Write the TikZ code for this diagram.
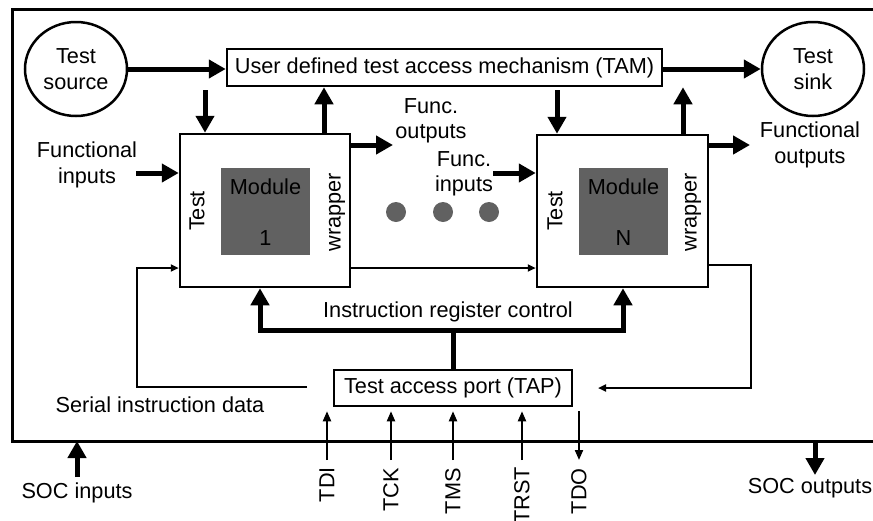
\documentclass[tikz,border=0pt]{standalone}
\usepackage{fontspec}
\setmainfont{Liberation Sans}
\usetikzlibrary{arrows.meta,shapes.geometric}
\begin{document}
\begin{tikzpicture}[x=1pt,y=-1pt,
  every node/.style={font=\fontsize{21.7}{25.5}\selectfont, inner sep=0pt},
  box/.style={draw, line width=2.5pt, rectangle},
  oval/.style={draw, line width=2.5pt, ellipse, minimum width=102pt, minimum height=94pt, align=center},
  modbox/.style={fill=black!62, minimum width=89pt, minimum height=87pt},
  thickarrow/.style={line width=5pt, -{Triangle[length=17pt,width=18pt]}},
  thinarrow/.style={line width=2pt, -{Triangle[length=8pt,width=7pt]}},
  pinarrow/.style={line width=2pt, -{Triangle[length=10pt,width=8pt]}},
  lbl/.style={align=center},
  vlbl/.style={rotate=90},
  dotnode/.style={circle, fill=black!62, minimum size=20pt},
]
\useasboundingbox (0,0) rectangle (873,520);

% outer SOC boundary
\coordinate (oTR) at (873,9);
\coordinate (oTL) at (12,9);
\coordinate (oBL) at (12,441);
\coordinate (oBR) at (873,441);
\draw[line width=3pt] (oTR) -- (oTL) -- (oBL) -- (oBR);

% main nodes
\node[oval] (src) at (76,69) {Test\\source};
\node[oval] (sink) at (813,69) {Test\\sink};
\node[box, minimum width=435pt, minimum height=37pt] (tam) at (444.5,67.5) {User defined test access mechanism (TAM)};
\node[box, minimum width=170pt, minimum height=153pt] (w1) at (265,210.5) {};
\node[box, minimum width=171pt, minimum height=152pt] (w2) at (622.5,211) {};
\node[modbox] (m1) at (265.5,211.5) {};
\node[modbox] (m2) at (623.5,211.5) {};
\node (m1t) at (265.5,187) {Module};
\node (m1n) at (265.5,238) {1};
\node (m2t) at (623.5,187) {Module};
\node (m2n) at (623.5,238) {N};
\node[vlbl] (t1) at (197,211) {Test};
\node[vlbl] (wr1) at (337,212) {wrapper};
\node[vlbl] (t2) at (555,211) {Test};
\node[vlbl] (wr2) at (693,212) {wrapper};
\node[box, minimum width=238pt, minimum height=36pt] (tap) at (453,388) {Test access port (TAP)};

% dots
\node[dotnode] (d1) at (396,212) {};
\node[dotnode] (d2) at (443,212) {};
\node[dotnode] (d3) at (489,212) {};

% labels
\node[lbl] (lfi) at (87,165) {Functional\\inputs};
\node[lbl] (lfo1) at (431,121) {Func.\\outputs};
\node[lbl] (lfi2) at (464,174) {Func.\\inputs};
\node[lbl] (lfo2) at (810,145) {Functional\\outputs};
\node (lirc) at (448,312) {Instruction register control};
\node (lsid) at (160,405) {Serial instruction data};
\node (lsocin) at (77,493) {SOC inputs};
\node (lsocout) at (810,488) {SOC outputs};

% TAM connections
\draw[thickarrow] (src.east) -- (tam.west |- src.east);
\draw[thickarrow] (tam.east |- sink.west) -- (sink.west);
\coordinate (c1) at (205,0);
\coordinate (c2) at (324,0);
\coordinate (c3) at (557,0);
\coordinate (c4) at (683,0);
\draw[thickarrow, shorten <=3pt] (c1 |- tam.south) -- (c1 |- w1.north);
\draw[thickarrow] (c2 |- w1.north) -- (c2 |- tam.south);
\draw[thickarrow, shorten <=3pt] (c3 |- tam.south) -- (c3 |- w2.north);
\draw[thickarrow] (c4 |- w2.north) -- (c4 |- tam.south);

% functional I/O
\coordinate (fi) at (136,173);
\coordinate (fo1) at (393,145);
\coordinate (fi2) at (493,173);
\coordinate (fo2) at (750,145);
\draw[thickarrow] (fi) -- (fi -| w1.west);
\draw[thickarrow] (fo1 -| w1.east) -- (fo1);
\draw[thickarrow] (fi2) -- (fi2 -| w2.west);
\draw[thickarrow] (fo2 -| w2.east) -- (fo2);

% serial path
\coordinate (mid) at (0,268);
\draw[thinarrow] (mid -| w1.east) -- (mid -| w2.west);
\coordinate (sA) at (307,387);
\coordinate (sB) at (137,268);
\draw[thinarrow] (sA) -| (sB) -- (sB -| w1.west);
\coordinate (rA) at (751,265);
\coordinate (rB) at (598,388);
\draw[thinarrow] (rA -| w2.east) -- (rA) |- (rB);

% instruction register control
\coordinate (irL) at (260,330);
\coordinate (irR) at (623,330);
\draw[line width=5pt, {Triangle[length=17pt,width=18pt]}-{Triangle[length=17pt,width=18pt]}]
  (irL |- w1.south) -- (irL) -- (irR) -- (irR |- w2.south);
\draw[line width=5pt] (tap.north) -- (tap.north |- irL);

% TAP pins
\coordinate (pTDI) at (327,460);
\coordinate (pTCK) at (391,460);
\coordinate (pTMS) at (453,460);
\coordinate (pTRST) at (522,460);
\coordinate (pTDO) at (579,460);
\draw[pinarrow, shorten >=4pt] (pTDI) -- (pTDI |- tap.south);
\draw[pinarrow, shorten >=4pt] (pTCK) -- (pTCK |- tap.south);
\draw[pinarrow, shorten >=4pt] (pTMS) -- (pTMS |- tap.south);
\draw[pinarrow, shorten >=4pt] (pTRST) -- (pTRST |- tap.south);
\draw[pinarrow, shorten <=4pt] (pTDO |- tap.south) -- (pTDO);
\node[vlbl, anchor=east] (lTDI) at (327,467) {TDI};
\node[vlbl, anchor=east] (lTCK) at (391,468) {TCK};
\node[vlbl, anchor=east] (lTMS) at (453,468) {TMS};
\node[vlbl, anchor=east] (lTRST) at (522,467) {TRST};
\node[vlbl, anchor=east] (lTDO) at (579,468) {TDO};

% SOC I/O
\coordinate (socin) at (77,477);
\coordinate (socout) at (815,475);
\draw[thickarrow] (socin) -- (socin |- oBL);
\draw[thickarrow] (socout |- oBL) -- (socout);
\end{tikzpicture}
\end{document}
